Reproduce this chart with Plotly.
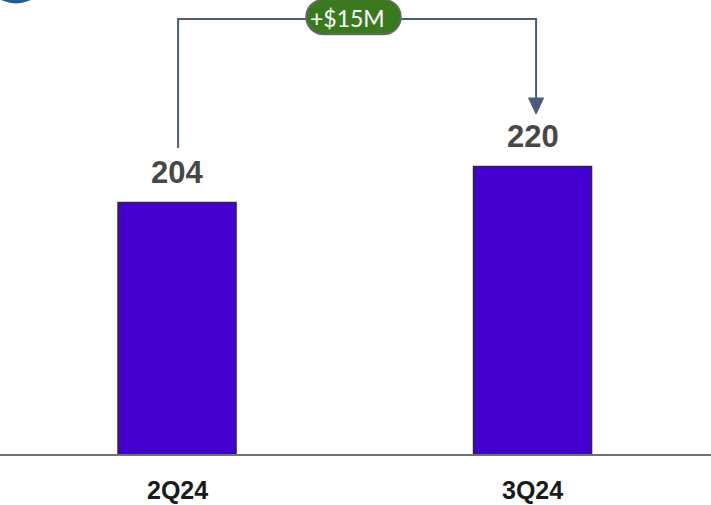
import plotly.graph_objects as go

# Quarterly values
quarters = ["2Q24", "3Q24"]
values = [204, 220]
change_label = "+$15M"

BAR_COLOR = "#4400CF"
LINE_COLOR = "#4B5B78"

W, H = 711, 505
MB = 50
PLOT_H = H - MB
Y0 = 91.8
PX_PER_UNIT = 2.25

fig = go.Figure(
    go.Bar(
        x=quarters,
        y=values,
        width=0.332,
        marker=dict(color=BAR_COLOR, line=dict(color="#2a2a3a", width=1.5)),
        hoverinfo="skip",
    )
)

annotations = []
for q, v in zip(quarters, values):
    # value above each bar
    annotations.append(dict(
        x=q, y=v, xref="x", yref="y", text=f"<b>{v}</b>", showarrow=False,
        yanchor="middle", yshift=30,
        font=dict(family="Liberation Sans", size=31, color="#474747"),
    ))
    # quarter label under the baseline
    annotations.append(dict(
        x=q, y=0, xref="x", yref="paper", text=f"<b>{q}</b>", showarrow=False,
        yanchor="middle", yshift=-35, borderpad=0,
        font=dict(family="Liberation Sans", size=25, color="#1a1a1a"),
    ))

# change label inside the pill
annotations.append(dict(
    x=347 / W, y=1 - 18 / PLOT_H, xref="paper", yref="paper", text=change_label,
    showarrow=False, xanchor="center", yanchor="middle",
    font=dict(family="Lato", size=23, color="white"),
))


def pill_path(w, h):
    r = h / 2
    k = 0.5523 * r
    x0, x1 = -w / 2 + r, w / 2 - r
    return (
        f"M {x0},{-r} L {x1},{-r} "
        f"C {x1 + k},{-r} {x1 + r},{-k} {x1 + r},0 "
        f"C {x1 + r},{k} {x1 + k},{r} {x1},{r} "
        f"L {x0},{r} "
        f"C {x0 - k},{r} {x0 - r},{k} {x0 - r},0 "
        f"C {x0 - r},{-k} {x0 - k},{-r} {x0},{-r} Z"
    )


top_y = 1 - 19 / PLOT_H
left_bottom = 1 - 148 / PLOT_H
arrow_tip = 1 - 114 / PLOT_H
arrow_base = 1 - 98 / PLOT_H
xl, xr = 0.003, 1.01
half_w = 7.5 / 355.5

shapes = [
    # baseline
    dict(type="line", xref="paper", yref="paper", x0=0, x1=1, y0=0, y1=0,
         line=dict(color="#707070", width=2), layer="above"),
    # bracket connecting the two bars
    dict(type="path", xref="x", yref="paper",
         path=f"M {xl},{left_bottom} L {xl},{top_y} L {xr},{top_y} L {xr},{arrow_base}",
         line=dict(color=LINE_COLOR, width=2)),
    # arrow head
    dict(type="path", xref="x", yref="paper",
         path=f"M {xr - half_w},{arrow_base} L {xr + half_w},{arrow_base} L {xr},{arrow_tip} Z",
         fillcolor=LINE_COLOR, line=dict(color=LINE_COLOR, width=1)),
    # pill behind the change label
    dict(type="path", xref="paper", yref="paper",
         xsizemode="pixel", ysizemode="pixel",
         xanchor=353.5 / W, yanchor=1 - 17 / PLOT_H,
         path=pill_path(95, 35),
         fillcolor="#3A7A1E", line=dict(color="#6a6a6a", width=1.5)),
    # corner badge
    dict(type="circle", xref="paper", yref="paper",
         x0=-16 / W, x1=48 / W, y0=1 + 60.5 / PLOT_H, y1=1 - 3.5 / PLOT_H,
         fillcolor="#1D5A96", line=dict(width=0)),
]

fig.update_layout(
    width=W, height=H,
    margin=dict(l=0, r=0, t=0, b=MB),
    paper_bgcolor="white", plot_bgcolor="white",
    showlegend=False,
    xaxis=dict(range=[-0.498, 1.502], showticklabels=False, showgrid=False,
               zeroline=False, showline=False, ticks=""),
    yaxis=dict(range=[Y0, Y0 + PLOT_H / PX_PER_UNIT], visible=False,
               showgrid=False, zeroline=False),
    annotations=annotations,
    shapes=shapes,
)

fig.write_html("out.html")
